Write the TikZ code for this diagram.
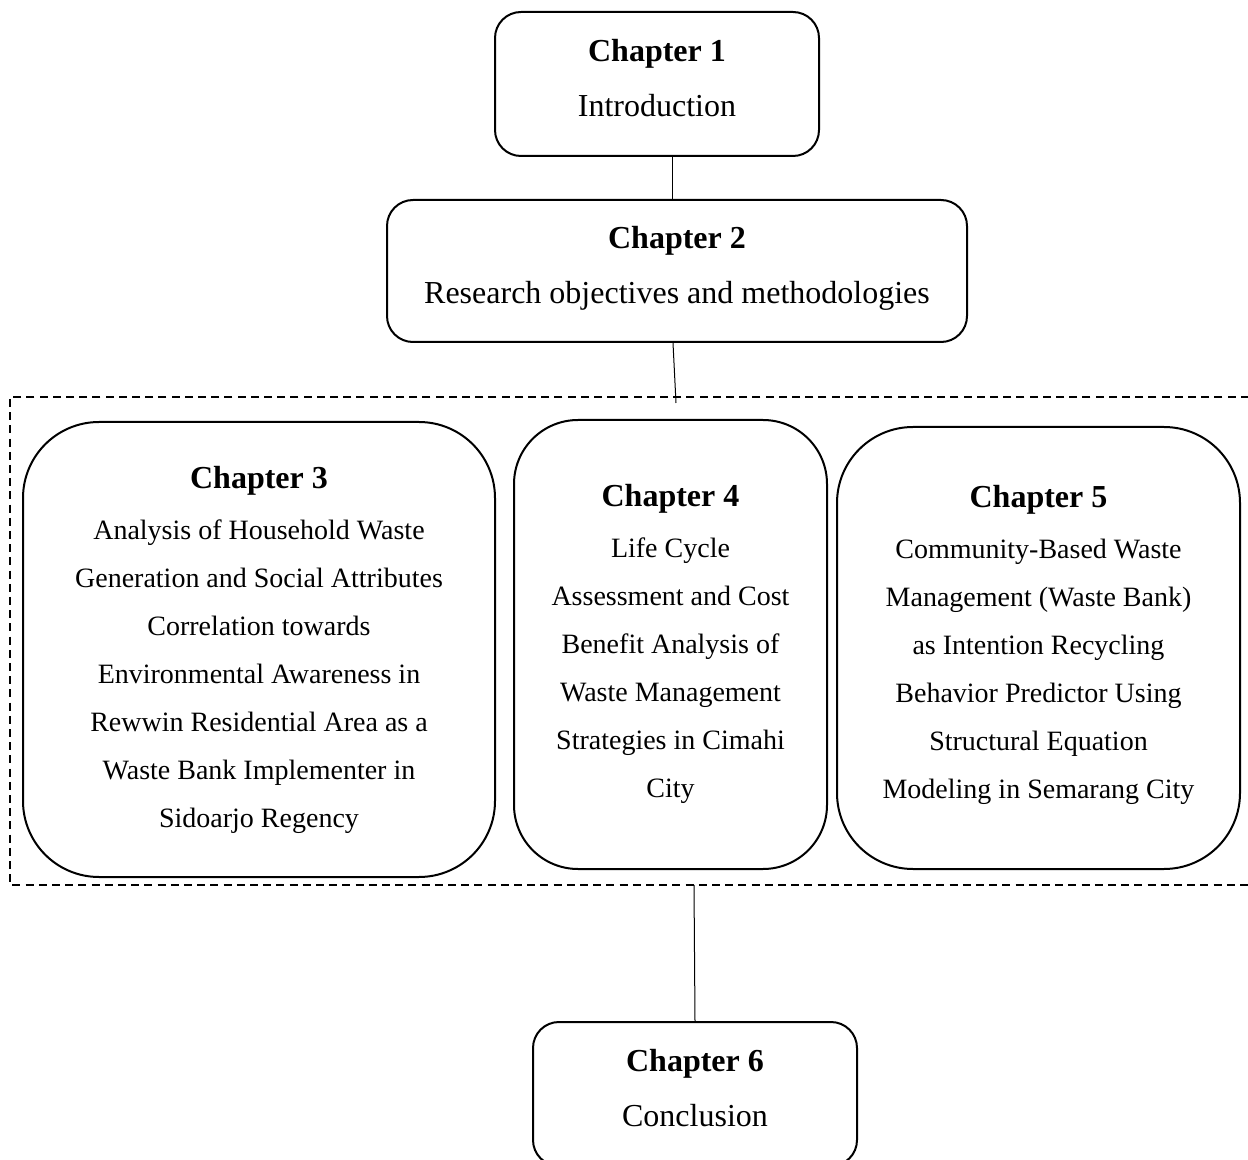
\documentclass[tikz,border=0pt]{standalone}
\usepackage{fontspec}
\setmainfont{Liberation Serif}
\usepackage{tikz}
\usetikzlibrary{positioning}

\newcommand{\chead}[1]{{\fontsize{16}{24}\selectfont\textbf{#1}}}

\begin{document}
\begin{tikzpicture}[
  x=0.5pt, y=-0.5pt,
  chap/.style={
    draw=black,
    line width=1pt,
    rounded corners=13pt,
    align=center,
    font=\fontsize{16}{24}\selectfont,
    text depth=6pt,
    minimum width=162pt,
    minimum height=72pt
  },
  bigchap/.style={
    draw=black,
    line width=1pt,
    rounded corners=38pt,
    align=center,
    font=\fontsize{14}{24}\selectfont
  },
  group/.style={draw=black, line width=1pt, dash pattern=on 4pt off 2.6pt},
  line/.style={line width=0.5pt}
]

\useasboundingbox (0,0) rectangle (1248,1160);
\clip (0,0) rectangle (1248,1160);

\node[chap] (ch1) at (657,84) {\chead{Chapter 1}\\[3.5pt]Introduction};
\node[chap, minimum width=290pt, minimum height=71pt] (ch2) at (677,271)
  {\chead{Chapter 2}\\[3.5pt]Research objectives and methodologies};

% dashed frame round chapters 3-5
\draw[group] (1262,397) -- (10,397) -- (10,885) -- (1262,885);
\coordinate (gtop) at (676,403);
\coordinate (gbot) at (694,885);

\node[bigchap, minimum width=236pt, minimum height=227.5pt] (ch3) at (259,649.5)
  {\chead{Chapter 3}\\[1.5pt]Analysis of Household Waste\\Generation and Social Attributes\\Correlation towards\\Environmental Awareness in\\Rewwin Residential Area as a\\Waste Bank Implementer in\\Sidoarjo Regency};
\node[bigchap, rounded corners=32pt, text depth=4pt, minimum width=156.5pt, minimum height=224.5pt] (ch4) at (670.5,644.5)
  {\chead{Chapter 4}\\[1.5pt]Life Cycle\\Assessment and Cost\\Benefit Analysis of\\Waste Management\\Strategies in Cimahi\\City};
\node[bigchap, text depth=6pt, minimum width=201.5pt, minimum height=221pt] (ch5) at (1038.5,648)
  {\chead{Chapter 5}\\[1.5pt]Community-Based Waste\\Management (Waste Bank)\\as Intention Recycling\\Behavior Predictor Using\\Structural Equation\\Modeling in Semarang City};

\node[chap] (ch6) at (695,1094) {\chead{Chapter 6}\\[3.5pt]Conclusion};

\draw[line] (ch1.south -| 672,0) -- (ch2.north -| 672,0);
\draw[line] (ch2.south -| 673,0) -- (gtop);
\draw[line] (gbot) -- (ch6.north);

\end{tikzpicture}
\end{document}
